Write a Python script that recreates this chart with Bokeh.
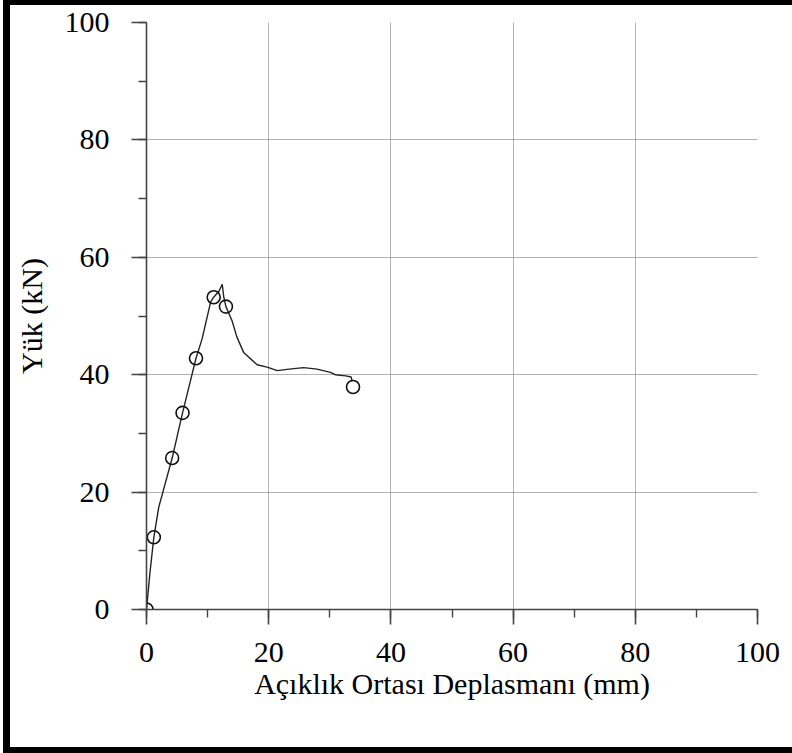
from bokeh.plotting import figure
from bokeh.models import Range1d, SingleIntervalTicker
from bokeh.embed import file_html
from bokeh.resources import INLINE

# Load-displacement curve (mm, kN)
disp = [0, 0.55, 1.2, 2.0, 4.2, 5.9, 7.2, 8.1, 9.1, 10.5, 11.0, 11.9, 12.4,
        12.65, 13.0, 14.0, 14.8, 15.9, 18.1, 19.75, 21.4, 23.0, 25.7, 27.9,
        30.1, 30.9, 32.6, 33.5, 33.65]
load = [0, 6.1, 12.3, 17.4, 25.8, 33.5, 39.0, 42.8, 46.1, 52.4, 53.2, 54.3, 55.4,
        53.2, 51.6, 49.2, 46.4, 43.8, 41.7, 41.3, 40.7, 40.9, 41.2, 40.95,
        40.4, 40.0, 39.8, 39.6, 38.9]

# Marked points
mark_disp = [0, 1.2, 4.2, 5.9, 8.1, 11.0, 13.0, 33.8]
mark_load = [0, 12.3, 25.8, 33.5, 42.8, 53.2, 51.6, 37.9]

x_label = "Açıklık Ortası Deplasmanı (mm)"
y_label = "Yük (kN)"

FONT = "Liberation Serif"

p = figure(width=789, height=753, output_backend="svg", toolbar_location=None,
           x_range=Range1d(0, 100), y_range=Range1d(0, 100),
           min_border_left=136, min_border_right=42, min_border_top=17,
           min_border_bottom=149)
p.styles = {"margin-left": "3px", "border-left": "7px solid black",
            "border-top": "5px solid black", "border-bottom": "6px solid black"}
p.outline_line_color = None
p.background_fill_color = "white"
p.border_fill_color = "white"

for ax in (p.xaxis[0], p.yaxis[0]):
    ax.ticker = SingleIntervalTicker(interval=20, num_minor_ticks=2)
    ax.axis_line_color = "#444444"
    ax.axis_line_width = 1.6
    ax.major_tick_line_color = "#444444"
    ax.major_tick_line_width = 1.6
    ax.minor_tick_line_color = "#444444"
    ax.minor_tick_line_width = 1.4
    ax.major_tick_out = 15
    ax.major_tick_in = 0
    ax.minor_tick_out = 8
    ax.minor_tick_in = 0
    ax.major_label_text_font = FONT
    ax.major_label_text_font_size = "30px"
    ax.major_label_text_color = "black"
    ax.axis_label_text_font = FONT
    ax.axis_label_text_font_size = "30px"
    ax.axis_label_text_font_style = "normal"
    ax.axis_label_text_color = "black"

p.xaxis.axis_label = x_label
p.yaxis.axis_label = y_label
p.xaxis.major_label_standoff = 18
p.yaxis.major_label_standoff = 22
p.xaxis.axis_label_standoff = 2
p.yaxis.axis_label_standoff = 14

for g in (p.xgrid[0], p.ygrid[0]):
    g.ticker = SingleIntervalTicker(interval=20)
    g.grid_line_color = "#666666"
    g.grid_line_dash = "1 1"
    g.grid_line_width = 1

p.line(disp, load, line_color="#222222", line_width=1.4)
p.scatter(mark_disp, mark_load, marker="circle", size=13, fill_color=None,
          line_color="#111111", line_width=1.6)

open("out.html", "w").write(file_html(p, INLINE))
